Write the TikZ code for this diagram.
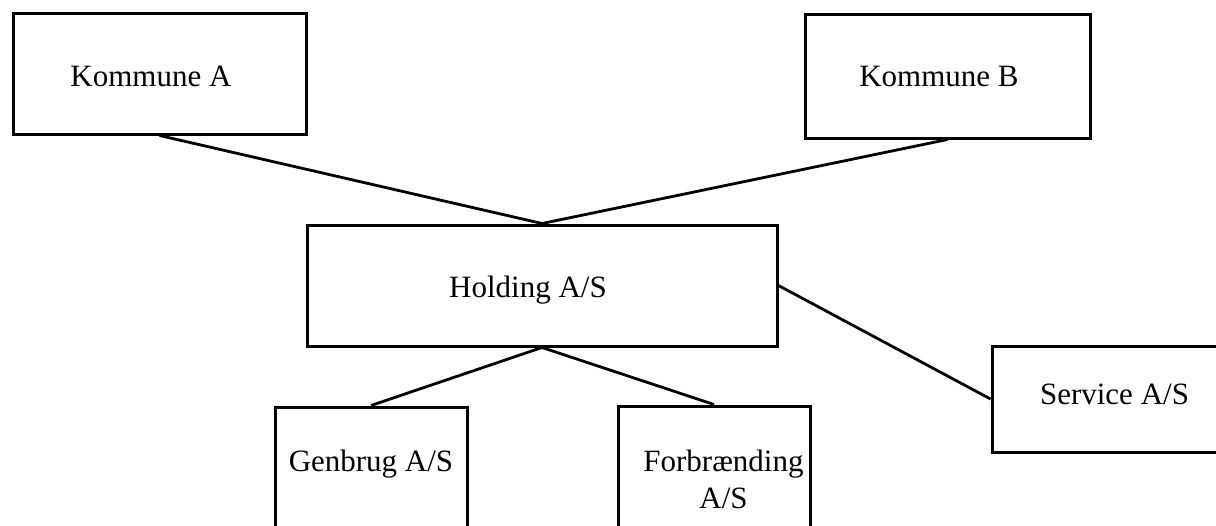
\documentclass[tikz,border=0pt]{standalone}
\usepackage{fontspec}
\setmainfont{Liberation Serif}
\usepackage{tikz}
\newcommand*{\OrgBox}[4]{% #1 = name, #2 = centre x,y, #3 = width, #4 = height
\node [orgbox, minimum width=#3, minimum height=#4] (#1) at (#2) {};
}

\begin{document}
\begin{tikzpicture}[x=1pt, y=-1pt,
    orgbox/.style={draw, line width=3pt, inner sep=0pt},
    orgtext/.style={anchor=base, inner sep=0pt, font=\fontsize{31}{37}\selectfont},
    tie/.style={line width=2.8pt}]

    \useasboundingbox (0,0) rectangle (1216,525);

    \OrgBox{kommA}{159.5,73.5}{293pt}{121pt}
    \OrgBox{kommB}{947.5,76}{285pt}{124pt}
    \OrgBox{holding}{542,285.5}{470pt}{121pt}
    \OrgBox{service}{1115,399}{246pt}{106pt}
    \OrgBox{genbrug}{371,483.5}{192pt}{153pt}
    \OrgBox{forbr}{714,483}{192pt}{154pt}

    \node [orgtext] (kommAtext) at (151,86) {Kommune A};
    \node [orgtext] (kommBtext) at (939,86) {Kommune B};
    \node [orgtext] (holdingtext) at (528,297) {Holding A/S};
    \node [orgtext] (servicetext) at (1114.5,404) {Service A/S};
    \node [orgtext] (genbrugtext) at (371,471) {Genbrug A/S};
    \node [orgtext, align=center] (forbrtext) at (723.5,508) {Forbrænding\\A/S};

    \draw [tie] (kommA.south) -- (holding.north);
    \draw [tie] (kommB.south) -- (holding.north);
    \draw [tie] (holding.south) -- (genbrug.north);
    \draw [tie] (holding.south) -- (forbr.north);
    \draw [tie] (holding.east) -- (service.west);

\end{tikzpicture}
\end{document}
